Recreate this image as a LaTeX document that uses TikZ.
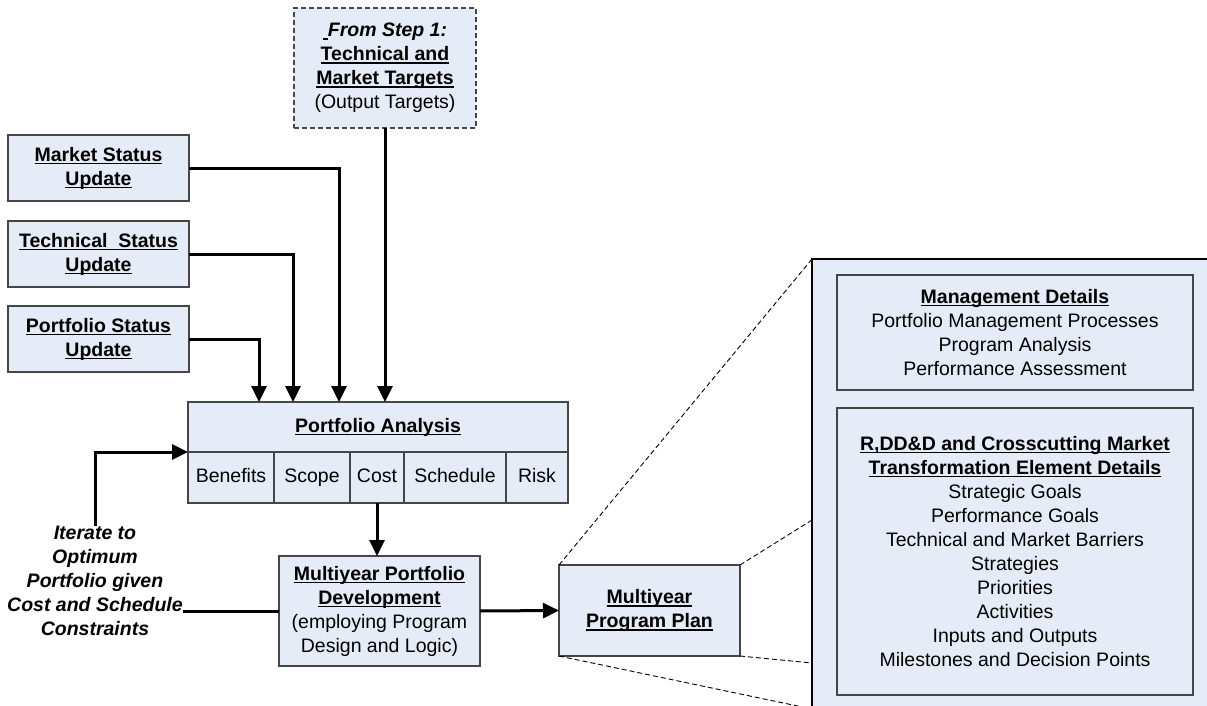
\documentclass[tikz,border=0pt]{standalone}
\usepackage{fontspec}
\setmainfont{Liberation Sans}
\usetikzlibrary{arrows.meta,positioning}
\definecolor{boxfill}{RGB}{230,236,247}
\definecolor{boxline}{RGB}{70,70,70}
\newcommand{\heading}[1]{\textbf{\setbox0\hbox{#1}\rlap{\rule[-3pt]{\wd0}{1.5pt}}\box0}}
\tikzstyle{box} = [
  draw=boxline,
  fill=boxfill,
  line width=1.3pt,
  rectangle,
  align=center,
  inner sep=0pt,
  outer sep=0pt,
  anchor=north west,
  font=\fontsize{19.5}{24}\selectfont,
]
\tikzstyle{cell} = [
  box,
  minimum height=51pt,
  text height=14pt,
  text depth=4pt,
]
\tikzstyle{source} = [
  box,
  dash pattern=on 5pt off 3pt,
]
\tikzstyle{remark} = [
  align=center,
  inner sep=0pt,
  font=\fontsize{19.5}{24}\selectfont\bfseries\itshape,
]
\tikzstyle{flow} = [
  line width=3pt,
  -{Triangle[width=15pt,length=16pt]},
]
\tikzstyle{link} = [
  line width=3pt,
]
\tikzstyle{zoomline} = [
  line width=0.9pt,
  dash pattern=on 5pt off 3pt,
]

\begin{document}
\begin{tikzpicture}[
    x=1pt,
    y=-1pt,
  ]
  \useasboundingbox (0,0) rectangle (1207,706);
  \clip (0,0) rectangle (1207,706);
  \node[
    source,
    minimum width=182pt,
    minimum height=120pt,
  ] (targets) at (294,8)
    {\rule[-3pt]{5pt}{1.5pt}\textbf{\textit{From Step 1:}}\\
     \heading{Technical and}\\
     \heading{Market Targets}\\
     (Output Targets)};
  \node[
    box,
    minimum width=181pt,
    minimum height=66pt,
  ] (marketstatus) at (8,135)
    {\heading{Market Status}\\\heading{Update}};
  \node[
    box,
    minimum width=181pt,
    minimum height=66pt,
  ] (techstatus) at (8,221)
    {\heading{Technical\ \ Status}\\\heading{Update}};
  \node[
    box,
    minimum width=181pt,
    minimum height=66pt,
  ] (portstatus) at (8,306)
    {\heading{Portfolio Status}\\\heading{Update}};
  \node[
    box,
    minimum width=380pt,
    minimum height=50pt,
  ] (analysis) at (188,402)
    {\heading{Portfolio Analysis}};
  \node[cell, minimum width=86pt] (benefits) at (188,452) {Benefits};
  \node[cell, minimum width=76pt, right=0pt of benefits] (scope) {Scope};
  \node[cell, minimum width=54pt, right=0pt of scope] (cost) {Cost};
  \node[cell, minimum width=102pt, right=0pt of cost] (schedule) {Schedule};
  \node[cell, minimum width=62pt, right=0pt of schedule] (risk) {Risk};
  \node[remark] (iterate) at (95,581)
    {Iterate to\\Optimum\\Portfolio given\\Cost and Schedule\\Constraints};
  \node[
    box,
    minimum width=201pt,
    minimum height=110pt,
  ] (mpd) at (279,556)
    {\heading{Multiyear Portfolio}\\
     \heading{Development}\\
     (employing Program\\
     Design and Logic)};
  \node[
    box,
    minimum width=181pt,
    minimum height=91pt,
  ] (mpp) at (559,565)
    {\heading{Multiyear}\\\heading{Program Plan}};
  \node[
    box,
    draw=black,
    minimum width=430pt,
    minimum height=480pt,
  ] (details) at (812,259) {};
  \node[
    box,
    minimum width=356pt,
    minimum height=115pt,
  ] (mgmt) at (837,275)
    {\heading{Management Details}\\
     Portfolio Management Processes\\
     Program Analysis\\
     Performance Assessment};
  \node[
    box,
    minimum width=356pt,
    minimum height=287pt,
  ] (elements) at (837,408)
    {\heading{R,DD\&D and Crosscutting Market}\\
     \heading{Transformation Element Details}\\
     Strategic Goals\\
     Performance Goals\\
     Technical and Market Barriers\\
     Strategies\\
     Priorities\\
     Activities\\
     Inputs and Outputs\\
     Milestones and Decision Points};
  \draw[flow] (targets.south) -- (targets.south |- analysis.north);
  \draw[flow] (marketstatus.east) -| ([xshift=151pt]analysis.north west);
  \draw[flow] (techstatus.east) -| ([xshift=105pt]analysis.north west);
  \draw[flow] (portstatus.east) -| ([xshift=71pt]analysis.north west);
  \draw[flow] (iterate.north) |- (analysis.south west);
  \draw[link] (iterate.east |- mpd.west) -- (mpd.west);
  \draw[flow] (cost.south) -- (cost.south |- mpd.north);
  \draw[flow] (mpd.east) -- (mpp.west);
  \draw[zoomline] (mpp.north west) -- (details.north west);
  \draw[zoomline] (mpp.north east) -- ([yshift=-261pt]details.north west);
  \draw[zoomline] (mpp.south east) -- ([yshift=-404pt]details.north west);
  \draw[zoomline] (mpp.south west) -- ([yshift=-450pt]details.north west);
\end{tikzpicture}
\end{document}
